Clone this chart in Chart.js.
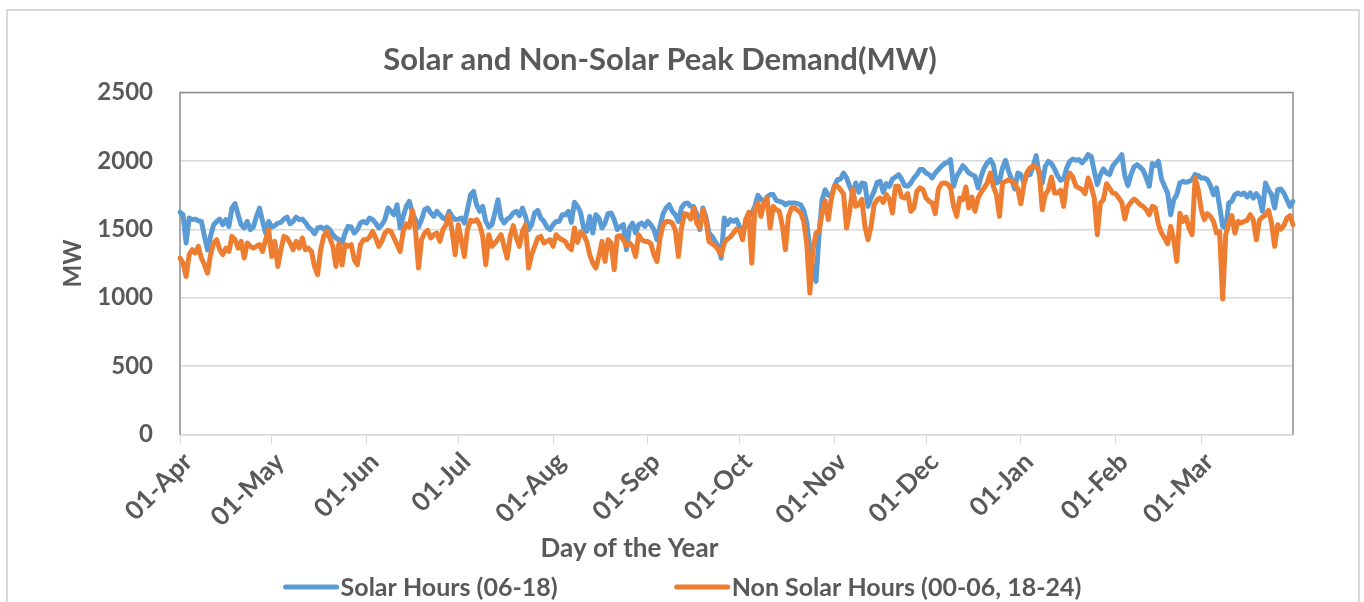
<!DOCTYPE html>
<html>
<head>
<meta charset="utf-8">
<title>Solar and Non-Solar Peak Demand</title>
<script src="https://cdn.jsdelivr.net/npm/chart.js@4.4.1/dist/chart.umd.min.js"></script>
<style>
  html, body { margin: 0; padding: 0; background: #ffffff; }
  #wrap { width: 1364px; height: 602px; }
</style>
</head>
<body>
<div id="wrap"><canvas id="chart" width="1364" height="602"></canvas></div>
<script>
// financial year Apr -> Mar, one point per day
const months = ["Apr", "May", "Jun", "Jul", "Aug", "Sep", "Oct", "Nov", "Dec", "Jan", "Feb", "Mar"];
const monthDays = [30, 31, 30, 31, 31, 30, 31, 30, 31, 31, 28, 31];

const dayLabels = [];
months.forEach((m, i) => {
    for (let d = 1; d <= monthDays[i]; d++) {
        dayLabels.push(String(d).padStart(2, "0") + "-" + m);
    }
});

// peak demand during solar hours (06-18), MW
const solarHours = [
    1625,1607,1400,1583,1571,1575,1563,1558,1449,1350,
    1450,1534,1558,1575,1534,1571,1522,1656,1688,1607,
    1534,1510,1558,1498,1517,1595,1656,1558,1473,1558,
    1517,1527,1546,1551,1575,1590,1541,1558,1590,1571,
    1575,1551,1517,1498,1468,1510,1517,1502,1517,1498,
    1461,1437,1424,1400,1473,1522,1517,1473,1498,1546,
    1558,1546,1583,1571,1546,1510,1534,1571,1656,1632,
    1607,1680,1510,1595,1668,1705,1620,1571,1517,1571,
    1644,1656,1620,1595,1632,1607,1583,1571,1632,1595,
    1571,1575,1583,1546,1644,1754,1778,1680,1632,1668,
    1558,1517,1534,1620,1717,1583,1546,1575,1590,1620,
    1632,1600,1656,1595,1498,1534,1620,1639,1583,1558,
    1517,1498,1534,1558,1558,1607,1607,1632,1551,1698,
    1668,1624,1510,1485,1595,1473,1607,1583,1510,1546,
    1615,1620,1571,1498,1522,1534,1351,1510,1546,1473,
    1534,1546,1522,1558,1534,1498,1424,1522,1615,1656,
    1680,1632,1607,1558,1656,1688,1693,1668,1668,1607,
    1498,1656,1590,1473,1449,1412,1376,1290,1583,1534,
    1571,1558,1571,1517,1473,1546,1595,1620,1668,1749,
    1720,1705,1737,1754,1754,1712,1705,1698,1680,1693,
    1693,1693,1688,1680,1639,1546,1351,1200,1120,1460,
    1717,1790,1749,1744,1815,1863,1868,1912,1876,1815,
    1761,1839,1771,1839,1834,1668,1729,1778,1844,1851,
    1771,1834,1815,1868,1883,1900,1868,1820,1815,1839,
    1876,1900,1937,1937,1912,1900,1876,1912,1937,1961,
    1981,1990,2010,1815,1888,1925,1966,1942,1912,1900,
    1888,1803,1888,1949,1986,2010,1973,1839,1851,1949,
    2005,1925,1863,1795,1912,1900,1839,1900,1900,1961,
    2039,1900,1839,1961,1998,1981,1942,1893,1859,1868,
    1949,1998,2015,2005,2010,1986,2010,2046,2034,1925,
    1827,1900,1942,1912,1900,1961,1990,2015,2046,1893,
    1820,1900,1956,1973,1956,1932,1876,1815,1981,1966,
    1998,1868,1815,1766,1607,1717,1754,1839,1851,1844,
    1851,1863,1900,1893,1876,1876,1863,1820,1754,1803,
    1668,1522,1510,1693,1705,1754,1766,1754,1766,1737,
    1766,1729,1761,1729,1632,1839,1790,1754,1656,1790,
    1795,1766,1717,1668,1705
];

// peak demand outside solar hours (00-06, 18-24), MW
const nonSolarHours = [
    1290,1254,1156,1315,1351,1327,1376,1290,1241,1180,
    1315,1400,1424,1351,1315,1363,1339,1449,1424,1363,
    1412,1290,1400,1376,1363,1376,1388,1339,1424,1498,
    1302,1412,1229,1351,1449,1437,1400,1351,1412,1363,
    1437,1351,1363,1339,1229,1168,1351,1449,1485,1437,
    1376,1229,1400,1241,1388,1376,1388,1278,1241,1388,
    1424,1424,1444,1485,1437,1376,1412,1473,1493,1485,
    1437,1388,1339,1485,1541,1517,1639,1498,1217,1424,
    1473,1493,1437,1461,1473,1412,1498,1534,1607,1485,
    1315,1534,1424,1302,1498,1566,1558,1571,1534,1449,
    1241,1461,1376,1400,1429,1461,1376,1290,1449,1527,
    1437,1376,1485,1534,1217,1315,1376,1437,1449,1400,
    1412,1424,1376,1461,1437,1424,1412,1371,1351,1510,
    1405,1480,1461,1412,1315,1254,1217,1302,1412,1266,
    1424,1400,1205,1449,1454,1424,1380,1400,1376,1302,
    1461,1424,1412,1412,1395,1315,1266,1437,1534,1558,
    1558,1546,1493,1302,1510,1615,1607,1575,1656,1546,
    1510,1644,1571,1412,1395,1380,1351,1315,1400,1429,
    1444,1473,1502,1493,1424,1571,1624,1254,1644,1693,
    1595,1693,1729,1510,1668,1644,1632,1527,1351,1595,
    1656,1656,1639,1620,1558,1388,1034,1351,1473,1485,
    1620,1710,1571,1720,1815,1815,1790,1761,1510,1632,
    1795,1668,1680,1720,1522,1424,1522,1680,1717,1729,
    1698,1754,1720,1620,1815,1815,1737,1729,1761,1632,
    1656,1778,1803,1790,1729,1705,1693,1615,1790,1834,
    1839,1832,1803,1668,1595,1729,1717,1810,1656,1737,
    1632,1729,1771,1803,1839,1912,1815,1754,1595,1839,
    1851,1863,1851,1834,1795,1688,1827,1917,1949,1961,
    1956,1925,1644,1754,1790,1883,1766,1766,1786,1668,
    1851,1912,1883,1815,1803,1790,1761,1876,1815,1729,
    1461,1693,1717,1834,1803,1766,1761,1729,1698,1576,
    1668,1698,1722,1705,1680,1668,1644,1607,1668,1656,
    1534,1473,1437,1395,1522,1424,1266,1617,1558,1590,
    1510,1461,1876,1790,1644,1571,1615,1595,1558,1473,
    1485,990,1461,1541,1600,1473,1558,1546,1558,1566,
    1607,1571,1424,1566,1590,1605,1639,1546,1376,1534,
    1502,1527,1583,1600,1534
];

const yTicks = [0, 500, 1000, 1500, 2000, 2500];

const textColor = "#595959";
const fontFamily = "Lato, 'Open Sans', sans-serif";

// light outer frame of the chart object
const outerFrame = {
    id: "outerFrame",
    beforeDraw(chart) {
        const ctx = chart.ctx;
        ctx.save();
        ctx.fillStyle = "#ffffff";
        ctx.fillRect(0, 0, chart.width, chart.height);
        ctx.strokeStyle = "#d9d9d9";
        ctx.lineWidth = 2;
        ctx.strokeRect(7, 10, 1352, 700);
        ctx.restore();
    }
};

// grey box round the plot area (left, top, right)
const plotFrame = {
    id: "plotFrame",
    beforeDatasetsDraw(chart) {
        const { ctx, chartArea: a } = chart;
        ctx.save();
        ctx.strokeStyle = "#8c8c8c";
        ctx.lineWidth = 1.5;
        ctx.beginPath();
        ctx.moveTo(a.left, a.bottom);
        ctx.lineTo(a.left, a.top);
        ctx.lineTo(a.right, a.top);
        ctx.lineTo(a.right, a.bottom);
        ctx.stroke();
        ctx.restore();
    }
};

// x axis title sits left of the plot centre in the original
const xAxisTitle = {
    id: "xAxisTitle",
    afterDraw(chart) {
        const ctx = chart.ctx;
        ctx.save();
        ctx.font = "bold 26px " + fontFamily;
        ctx.fillStyle = textColor;
        ctx.textAlign = "center";
        ctx.textBaseline = "middle";
        ctx.fillText("Day of the Year", 629.5, 549);
        ctx.restore();
    }
};

// legend row like excel: line sample glued to its text, wide gap between items
const lineLegend = {
    id: "lineLegend",
    afterDraw(chart) {
        const ctx = chart.ctx;
        const sets = chart.data.datasets;
        const lineLen = 55, textGap = 2, itemGap = 117, y = 587;
        ctx.save();
        ctx.font = "bold 25px " + fontFamily;
        ctx.textBaseline = "middle";
        ctx.textAlign = "left";
        const widths = sets.map(ds => lineLen + textGap + ctx.measureText(ds.label).width);
        const total = widths.reduce((s, w) => s + w, 0) + itemGap * (sets.length - 1);
        let x = 682.5 - total / 2;
        sets.forEach((ds, i) => {
            ctx.strokeStyle = ds.borderColor;
            ctx.lineWidth = 5;
            ctx.lineCap = "round";
            ctx.beginPath();
            ctx.moveTo(x + 2, y);
            ctx.lineTo(x + lineLen - 2, y);
            ctx.stroke();
            ctx.fillStyle = textColor;
            ctx.fillText(ds.label, x + lineLen + textGap, y + 1);
            x += widths[i] + itemGap;
        });
        ctx.restore();
    }
};

const ctx = document.getElementById("chart").getContext("2d");
const chart = new Chart(ctx, {
    type: "line",
    data: {
        labels: dayLabels,
        datasets: [
            {
                label: "Solar Hours (06-18)",
                data: solarHours,
                borderColor: "#5b9bd5",
                backgroundColor: "#5b9bd5",
                borderWidth: 5,
                order: 1
            },
            {
                label: "Non Solar Hours (00-06, 18-24)",
                data: nonSolarHours,
                borderColor: "#ed7d31",
                backgroundColor: "#ed7d31",
                borderWidth: 5,
                order: 0
            }
        ]
    },
    options: {
        responsive: false,
        animation: false,
        devicePixelRatio: 1,
        layout: {
            padding: { left: 27, right: 71, top: 0, bottom: 38.6 }
        },
        elements: {
            point: { radius: 0, hoverRadius: 0 },
            line: { tension: 0, borderJoinStyle: "round", borderCapStyle: "round" }
        },
        plugins: {
            legend: { display: false },
            tooltip: { enabled: false },
            title: {
                display: true,
                text: "Solar and Non-Solar Peak Demand(MW)",
                color: textColor,
                font: { family: fontFamily, size: 31, weight: "bold", lineHeight: 1.2 },
                padding: { top: 41.4, bottom: 14.0 }
            }
        },
        scales: {
            x: {
                type: "category",
                offset: false,
                grid: {
                    display: true,
                    drawOnChartArea: false,
                    drawTicks: true,
                    tickLength: 9,
                    color: "#d9d9d9"
                },
                border: { display: true, color: "#d9d9d9", width: 1.5 },
                ticks: {
                    autoSkip: false,
                    minRotation: 45,
                    maxRotation: 45,
                    padding: 3,
                    labelOffset: 8,
                    color: textColor,
                    font: { family: fontFamily, size: 26, weight: "bold" },
                    callback: function (value) {
                        const lab = this.getLabelForValue(value);
                        return lab.startsWith("01-") ? lab : null;
                    }
                },
                title: { display: false },
                afterFit: (scale) => { scale.height = 128.9; }
            },
            y: {
                min: 0,
                max: 2500,
                afterBuildTicks: (scale) => {
                    scale.ticks = yTicks.map(v => ({ value: v }));
                },
                grid: { color: "#d9d9d9", lineWidth: 1.5, drawTicks: false },
                border: { display: false },
                ticks: {
                    padding: 27,
                    color: textColor,
                    font: { family: fontFamily, size: 24, weight: "bold" },
                    callback: (v) => String(v)
                },
                title: {
                    display: true,
                    text: "MW",
                    color: textColor,
                    font: { family: fontFamily, size: 24, weight: "bold", lineHeight: 1.2 },
                    padding: { top: 31.6, bottom: 0 }
                },
                afterFit: (scale) => { scale.width = 153; }
            }
        }
    },
    plugins: [outerFrame, plotFrame, xAxisTitle, lineLegend]
});
</script>
</body>
</html>
